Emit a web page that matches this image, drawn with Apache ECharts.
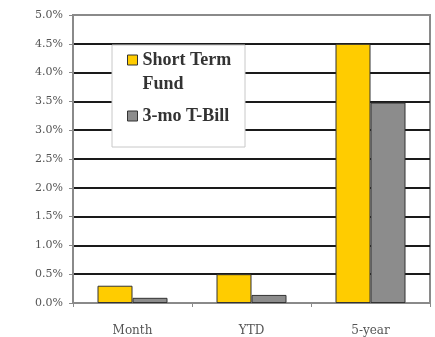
<!DOCTYPE html>
<html>
<head>
<meta charset="utf-8">
<script src="https://cdn.jsdelivr.net/npm/echarts@6/dist/echarts.min.js"></script>
<style>
    html, body {margin: 0; padding: 0; background: #fff;}
    #main {width: 435px; height: 337px;}
</style>
</head>
<body>
<div id="main"></div>
<script>
// data (percent)
const categories = ['Month', 'YTD', '5-year'];
const fundName = 'Short Term Fund';
const billName = '3-mo T-Bill';
const fundValues = [0.30, 0.50, 4.50];
const billValues = [0.09, 0.14, 3.48];
const yTicks = ['0.0%', '0.5%', '1.0%', '1.5%', '2.0%', '2.5%', '3.0%', '3.5%', '4.0%', '4.5%', '5.0%'];

const chart = echarts.init(document.getElementById('main'));

const lineColors = yTicks.map((t, i) => (i === 0 || i === yTicks.length - 1) ? '#8a8a8a' : '#1a1a1a');

const legendFont = {
    fontFamily: 'Liberation Serif',
    fontWeight: 'bold',
    fontSize: 18,
    color: '#333',
    lineHeight: 24
};

const option = {
    backgroundColor: '#fff',
    animation: false,
    grid: {
        left: 73,
        top: 15,
        right: 5,
        bottom: 32,
        show: true,
        borderColor: '#8a8a8a',
        borderWidth: 2,
        backgroundColor: 'transparent'
    },
    graphic: [{
        type: 'rect',
        z: 3,
        shape: {x: 112, y: 45, width: 133, height: 102},
        style: {fill: '#fff', stroke: '#c8c8c8', lineWidth: 1}
    }],
    legend: {
        orient: 'vertical',
        left: 127,
        top: 27,
        padding: 0,
        z: 5,
        icon: 'rect',
        itemWidth: 10,
        itemHeight: 10,
        itemGap: 14,
        itemStyle: {borderColor: '#333', borderWidth: 1},
        formatter: (name) => name === fundName
            ? '{g| }\n{t|Short Term}\n{t|Fund}'
            : '{t|' + name + '}',
        textStyle: {
            rich: {
                g: {fontSize: 18, lineHeight: 24},
                t: legendFont
            }
        },
        data: [fundName, billName]
    },
    xAxis: {
        type: 'category',
        data: categories,
        axisLine: {lineStyle: {color: '#8a8a8a', width: 2}},
        axisTick: {show: true, length: 4, lineStyle: {color: '#8a8a8a'}},
        axisLabel: {
            fontFamily: 'DejaVu Serif',
            fontSize: 12,
            color: '#555',
            margin: 22
        }
    },
    yAxis: {
        type: 'value',
        min: 0,
        max: 5,
        interval: 0.5,
        axisLine: {show: true, lineStyle: {color: '#8a8a8a', width: 2}},
        axisTick: {show: true, length: 4, lineStyle: {color: '#8a8a8a'}},
        axisLabel: {
            fontFamily: 'DejaVu Serif',
            fontSize: 11,
            color: '#555',
            margin: 10,
            formatter: (v) => yTicks[Math.round(v / 0.5)]
        },
        splitLine: {show: true, lineStyle: {color: lineColors, width: 2}}
    },
    series: [
        {
            name: fundName,
            type: 'bar',
            data: fundValues,
            barWidth: 35,
            barGap: '0%',
            itemStyle: {color: '#ffcc00', borderColor: '#333', borderWidth: 1}
        },
        {
            name: billName,
            type: 'bar',
            data: billValues,
            barWidth: 35,
            itemStyle: {color: '#8c8c8c', borderColor: '#333', borderWidth: 1}
        }
    ]
};

chart.setOption(option);
</script>
</body>
</html>
